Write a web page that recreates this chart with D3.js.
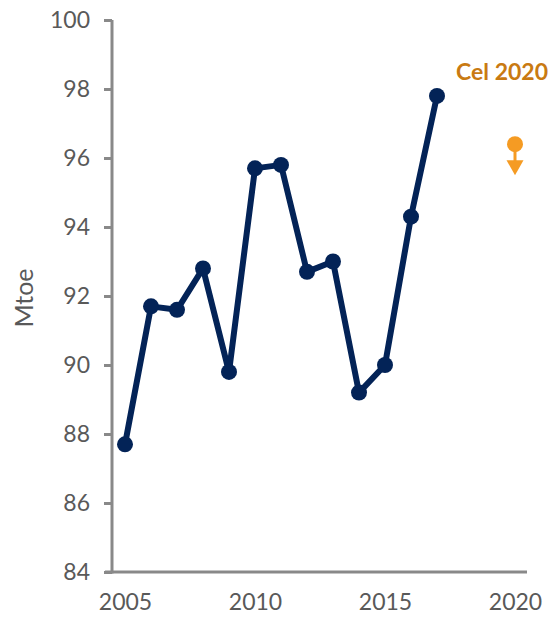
<!DOCTYPE html>
<html>
<head>
<meta charset="utf-8">
<script src="https://cdn.jsdelivr.net/npm/d3@7"></script>
<style>
  body { margin: 0; background: #fff; }
  text { font-family: Lato, "Open Sans", sans-serif; }
  .axis text { fill: #595959; font-size: 23px; }
  .axis path, .axis line { stroke: #898989; stroke-width: 3px; }
</style>
</head>
<body>
<script>
// energy consumption, Mtoe
var years = [2005, 2006, 2007, 2008, 2009, 2010, 2011, 2012, 2013, 2014, 2015, 2016, 2017];
var values = [87.7, 91.7, 91.6, 92.8, 89.8, 95.7, 95.8, 92.7, 93.0, 89.2, 90.0, 94.3, 97.8];
var targetYear = 2020, targetValue = 96.4, targetLabel = "Cel 2020";
var yTicks = [84, 86, 88, 90, 92, 94, 96, 98, 100];
var xTicks = [2005, 2010, 2015, 2020];

var width = 555, height = 620;

var svg = d3.select("body").append("svg")
    .attr("width", width)
    .attr("height", height);

var x = d3.scaleLinear().domain([2005, 2020]).range([125, 515]);
var y = d3.scaleLinear().domain([84, 100]).range([572, 20]);

// y axis
svg.append("g")
    .attr("class", "axis")
    .attr("transform", "translate(112,0)")
    .call(d3.axisLeft(y).tickValues(yTicks).tickSize(8).tickSizeOuter(0).tickPadding(14))
    .call(function(g){ g.select(".domain").attr("d", "M0," + (y(84) + 1.5) + "V" + y(100)); });

// x axis
var xAxis = svg.append("g")
    .attr("class", "axis")
    .attr("transform", "translate(0," + y(84) + ")")
    .call(d3.axisBottom(x).tickValues(xTicks).tickFormat(d3.format("d")).tickSize(0).tickPadding(22));
xAxis.select(".domain").attr("d", "M" + (x(2005) - 20) + ",0H" + (x(2020) + 12));

// y title
svg.append("text")
    .attr("transform", "translate(33," + 298 + ") rotate(-90)")
    .attr("text-anchor", "middle")
    .attr("fill", "#595959")
    .style("font-size", "25px")
    .text("Mtoe");

var data = years.map(function(d, i){ return {year: d, value: values[i]}; });

var line = d3.line()
    .x(function(d){ return x(d.year); })
    .y(function(d){ return y(d.value); });

svg.append("path")
    .datum(data)
    .attr("fill", "none")
    .attr("stroke", "#032357")
    .attr("stroke-width", 6)
    .attr("stroke-linejoin", "round")
    .attr("d", line);

svg.selectAll(".dot")
    .data(data)
    .enter()
    .append("circle")
    .attr("class", "dot")
    .attr("cx", function(d){ return x(d.year); })
    .attr("cy", function(d){ return y(d.value); })
    .attr("r", 8)
    .attr("fill", "#032357");

// target marker with down arrow
var tx = x(targetYear), ty = y(targetValue);
var target = svg.append("g").attr("transform", "translate(" + tx + "," + ty + ")");
target.append("line")
    .attr("x1", 0).attr("y1", 0)
    .attr("x2", 0).attr("y2", 18)
    .attr("stroke", "#F59B23")
    .attr("stroke-width", 3);
target.append("path")
    .attr("d", "M-8.5,16L8.5,16L0,31Z")
    .attr("fill", "#F59B23");
target.append("circle")
    .attr("r", 8)
    .attr("fill", "#F59B23");

svg.append("text")
    .attr("x", 548)
    .attr("y", 80)
    .attr("text-anchor", "end")
    .attr("fill", "#C97A12")
    .style("font-size", "23px")
    .style("font-weight", "bold")
    .text(targetLabel);
</script>
</body>
</html>
